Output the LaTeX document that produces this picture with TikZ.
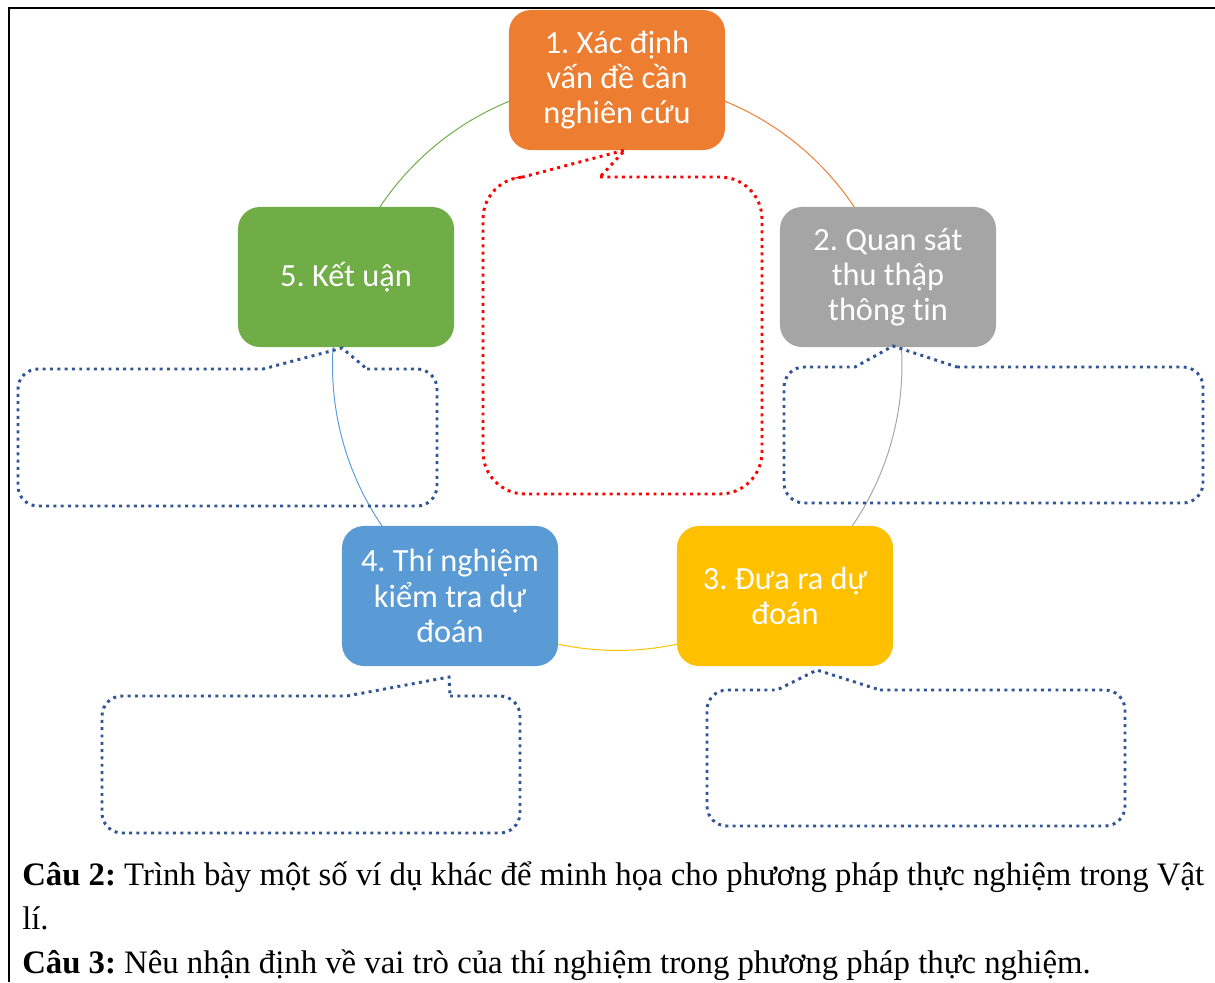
\documentclass[tikz,border=0pt]{standalone}
\usepackage{fontspec}
\setmainfont{Liberation Serif}
\newfontfamily\boxfont[Ligatures=NoCommon]{Carlito}
\usepackage{xcolor}
\usetikzlibrary{backgrounds}
\frenchspacing

\definecolor{orangeA}{HTML}{ED7D31}
\definecolor{grayA}{HTML}{A5A5A5}
\definecolor{goldA}{HTML}{FFC000}
\definecolor{blueA}{HTML}{5B9BD5}
\definecolor{greenA}{HTML}{70AD47}
\definecolor{noteblue}{HTML}{2F5597}

\begin{document}
\begin{tikzpicture}[
    x=0.025cm,
    y=-0.025cm,
    stage/.style={
        rounded corners=0.55cm,
        text=white,
        align=center,
        font=\boxfont\fontsize{23}{25}\selectfont,
        minimum width=5.4cm,
        minimum height=3.5cm,
        inner sep=2pt
    },
    link/.style={
        line width=0.7pt
    },
    note/.style={
        draw=noteblue,
        line width=2.1pt,
        dash pattern=on 2.1pt off 3.1pt
    },
    redbox/.style={
        draw=red,
        line width=2.1pt,
        dash pattern=on 2.1pt off 3.1pt
    },
    question/.style={
        anchor=base west,
        inner sep=0pt,
        font=\fontsize{23.3}{26}\selectfont
    }
]
\useasboundingbox (0,0) rectangle (1215,982);

% Frame
\draw[line width=2pt] (1215,8) -- (9,8) -- (9,982);

% Stages
\node[stage, fill=orangeA] (xd) at (617,80) {1. Xác định\\vấn đề cần\\nghiên cứu};
\node[stage, fill=grayA] (qs) at (888,277) {2. Quan sát\\thu thập\\thông tin};
\node[stage, fill=goldA] (dd) at (785,596) {3. Đưa ra dự\\đoán};
\node[stage, fill=blueA] (tn) at (450,596) {4. Thí nghiệm\\kiểm tra dự\\đoán};
\node[stage, fill=greenA] (kl) at (346,277) {5. Kết uận};

% Cycle
\begin{scope}[on background layer]
\draw[link, orangeA] (xd.center) arc[start angle=-90, end angle=-18, radius=285];
\draw[link, grayA] (qs.center) arc[start angle=-18, end angle=54, radius=285];
\draw[link, goldA] (dd.center) arc[start angle=54, end angle=126, radius=285];
\draw[link, blueA] (tn.center) arc[start angle=126, end angle=198, radius=285];
\draw[link, greenA] (kl.center) arc[start angle=198, end angle=270, radius=285];
\end{scope}

% Red callout
\draw[redbox] (600,177) [rounded corners=1.05cm] -- (762,177) -- (762,494)
    -- (483,494) -- (483,177) [sharp corners] -- (523,177) -- (625,150) -- cycle;

% Callouts
\draw[note] (367,369) [rounded corners=0.5cm] -- (437,369) -- (437,506)
    -- (18,506) -- (18,369) [sharp corners] -- (263,369) -- (342,348) -- cycle;
\draw[note] (957,367) [rounded corners=0.5cm] -- (1203,367) -- (1203,503)
    -- (784,503) -- (784,367) [sharp corners] -- (855,367) -- (893,346) -- cycle;
\draw[note] (450,696) [rounded corners=0.5cm] -- (520,696) -- (520,833)
    -- (102,833) -- (102,696) [sharp corners] -- (347,696) -- (449,677) -- cycle;
\draw[note] (880,690) [rounded corners=0.5cm] -- (1125,690) -- (1125,826)
    -- (707,826) -- (707,690) [sharp corners] -- (777,690) -- (817,670) -- cycle;

% Questions
\node[question] (q2) at (22,885) {\textbf{Câu 2:} Trình bày một số ví dụ khác để minh họa cho phương pháp thực nghiệm trong Vật};
\node[question] (q2b) at (22,929) {lí.};
\node[question] (q3) at (22,973) {\textbf{Câu 3:} Nêu nhận định về vai trò của thí nghiệm trong phương pháp thực nghiệm.};

\end{tikzpicture}
\end{document}
